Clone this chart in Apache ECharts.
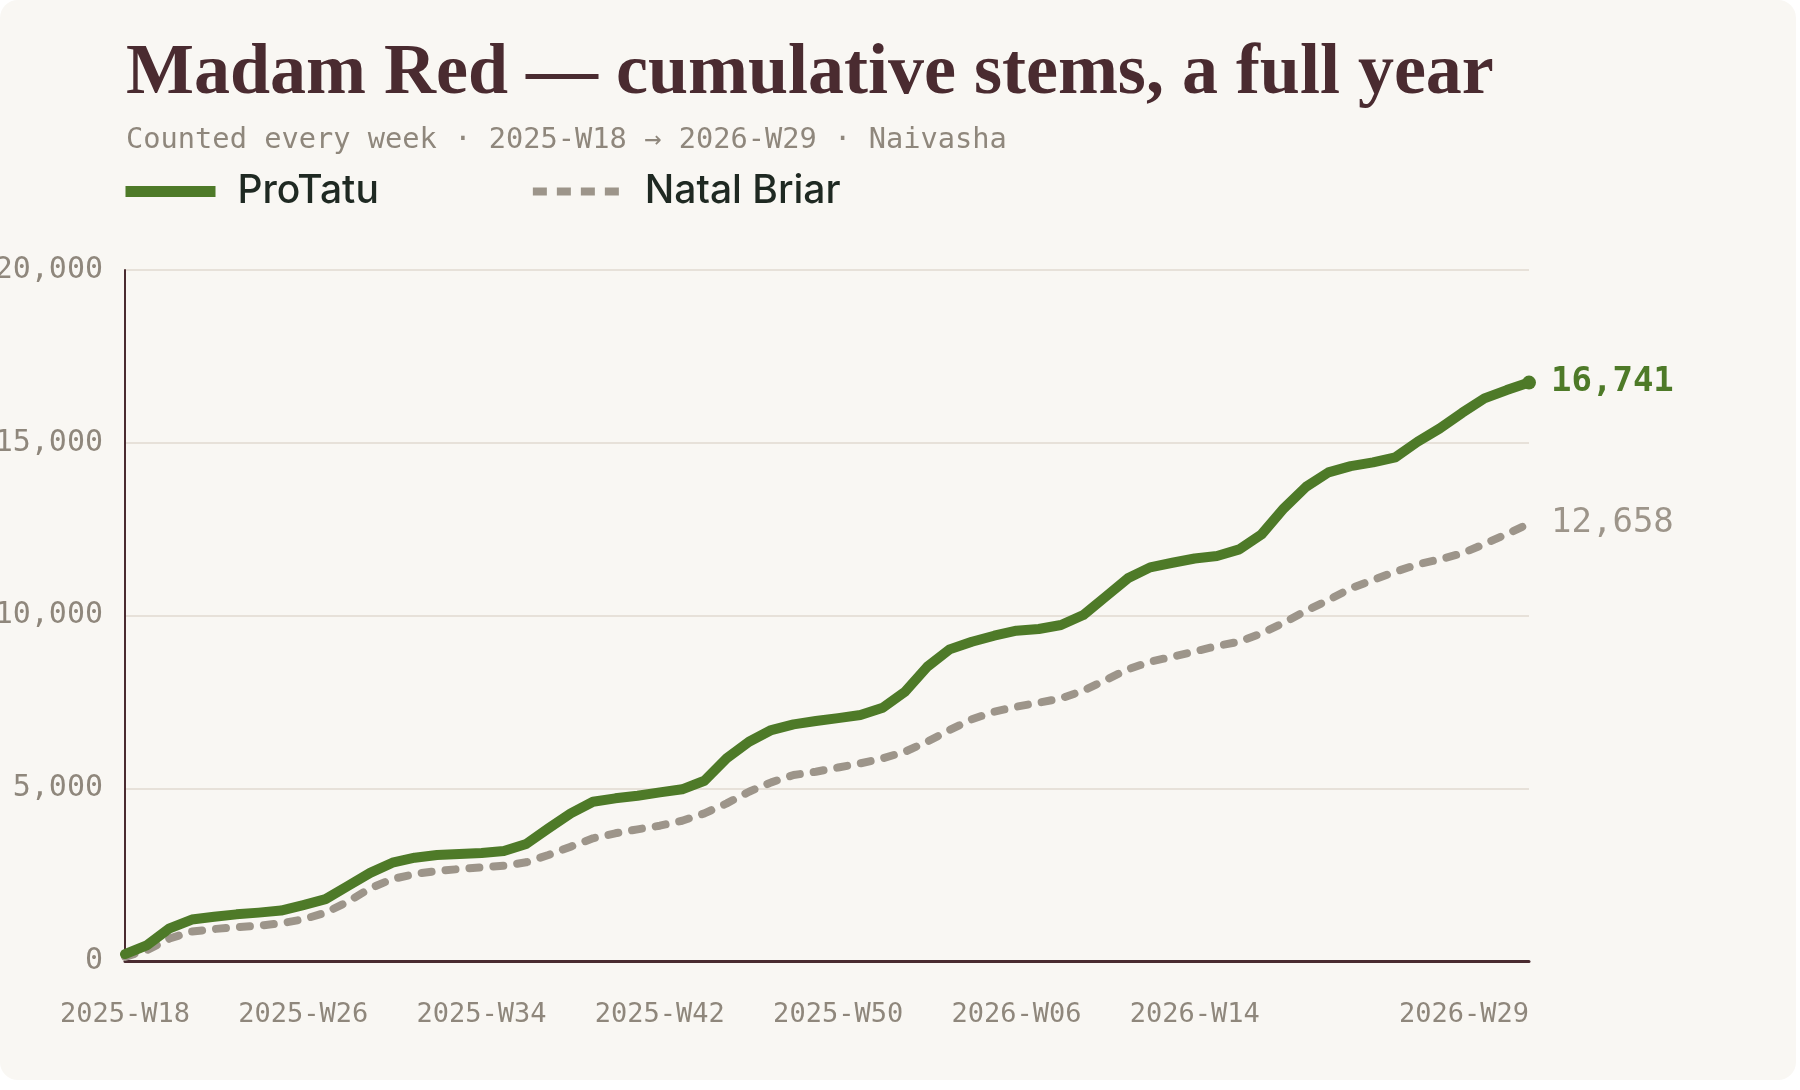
<!DOCTYPE html>
<html>
<head>
<meta charset="utf-8">
<script src="https://cdn.jsdelivr.net/npm/echarts@6/dist/echarts.min.js"></script>
<style>
  html, body { margin: 0; padding: 0; background: #ffffff; }
  #card { position: absolute; left: 0; top: 0; width: 1796px; height: 1080px; border-radius: 18px; background: #f9f7f3; }
  #chart { position: absolute; left: 0; top: 0; width: 1800px; height: 1090px; }
</style>
</head>
<body>
<div id="card"></div>
<div id="chart"></div>
<script>
// weeks counted, 2025-W18 .. 2026-W29
const weeks = [
  '2025-W18', '2025-W19', '2025-W20', '2025-W21', '2025-W22', '2025-W23', '2025-W24', '2025-W25',
  '2025-W26', '2025-W27', '2025-W28', '2025-W29', '2025-W30', '2025-W31', '2025-W32', '2025-W33',
  '2025-W34', '2025-W35', '2025-W36', '2025-W37', '2025-W38', '2025-W39', '2025-W40', '2025-W41',
  '2025-W42', '2025-W43', '2025-W44', '2025-W45', '2025-W46', '2025-W47', '2025-W48', '2025-W49',
  '2025-W50', '2025-W51', '2025-W52', '2026-W01', '2026-W02', '2026-W03', '2026-W04', '2026-W05',
  '2026-W06', '2026-W07', '2026-W08', '2026-W09', '2026-W10', '2026-W11', '2026-W12', '2026-W13',
  '2026-W14', '2026-W15', '2026-W16', '2026-W17', '2026-W18', '2026-W19', '2026-W20', '2026-W21',
  '2026-W22', '2026-W23', '2026-W24', '2026-W25', '2026-W26', '2026-W27', '2026-W28', '2026-W29'
]
const shownWeeks = ['2025-W18', '2025-W26', '2025-W34', '2025-W42', '2025-W50', '2026-W06', '2026-W14', '2026-W29']

const proTatu = [
  200, 460, 945, 1200, 1280, 1350, 1400, 1460,
  1620, 1790, 2170, 2550, 2845, 2990, 3068, 3100,
  3125, 3183, 3386, 3840, 4274, 4610, 4708, 4784,
  4882, 4969, 5218, 5866, 6347, 6685, 6850, 6946,
  7030, 7119, 7331, 7794, 8517, 9020, 9241, 9414,
  9559, 9608, 9724, 10013, 10543, 11075, 11393, 11527,
  11650, 11721, 11914, 12348, 13101, 13726, 14143, 14325,
  14432, 14577, 15029, 15416, 15867, 16284, 16525, 16741
]
const natalBriar = [
  120, 320, 650, 850, 926, 975, 1022, 1090,
  1206, 1398, 1717, 2103, 2373, 2518, 2605, 2662,
  2711, 2759, 2856, 3068, 3308, 3551, 3696, 3811,
  3916, 4060, 4274, 4563, 4900, 5171, 5383, 5478,
  5600, 5721, 5866, 6057, 6347, 6685, 6995, 7215,
  7360, 7475, 7602, 7822, 8132, 8442, 8662, 8807,
  8960, 9116, 9241, 9483, 9791, 10138, 10447, 10786,
  11026, 11267, 11480, 11625, 11799, 12068, 12357, 12658
]

const GREEN = '#4e7a28'
const GREY = '#9d958a'
const INK = '#4a2b30'
const MUTED = '#8f877c'
const MONO = '"DejaVu Sans Mono", monospace'

const fmt = v => v.toLocaleString('en-US')

const chart = echarts.init(document.getElementById('chart'))

// last point of ProTatu gets a dot
const greenData = proTatu.map((v, i) =>
  i === proTatu.length - 1 ? { value: v, symbol: 'circle', symbolSize: 14 } : v
)

chart.setOption({
  backgroundColor: 'transparent',
  animation: false,
  title: [
    {
      text: 'Madam Red — cumulative stems, a full year',
      left: 126, top: 38, padding: 0,
      textStyle: { fontFamily: '"Liberation Serif", serif', fontWeight: 'bold', fontSize: 72, color: INK }
    },
    {
      text: 'Counted every week · 2025-W18 → 2026-W29 · Naivasha',
      left: 126, top: 126, padding: 0,
      textStyle: { fontFamily: MONO, fontWeight: 'normal', fontSize: 28.7, color: MUTED }
    }
  ],
  legend: {
    left: 120, top: 172, padding: 0,
    itemWidth: 90, itemHeight: 12, itemGap: 150,
    itemStyle: { opacity: 0 },
    textStyle: { fontFamily: 'Inter, Roboto, sans-serif', fontSize: 39, fontWeight: 500, color: '#1f2922', padding: [0, 0, 0, 17] },
    data: [
      { name: 'ProTatu', itemStyle: { opacity: 0 }, lineStyle: { width: 11, type: 'solid', cap: 'butt', color: GREEN } },
      { name: 'Natal Briar', itemStyle: { opacity: 0 }, lineStyle: { width: 8, type: [14, 10], cap: 'butt', color: GREY } }
    ]
  },
  grid: { left: 125, right: 271, top: 270, bottom: 129, containLabel: false, outerBoundsMode: 'none' },
  xAxis: {
    type: 'category',
    data: weeks,
    boundaryGap: false,
    axisLine: { lineStyle: { color: INK, width: 3 } },
    axisTick: { show: false },
    axisLabel: {
      interval: (i, v) => shownWeeks.includes(v),
      showMaxLabel: true,
      alignMaxLabel: 'right',
      margin: 40,
      fontFamily: MONO, fontSize: 27, color: MUTED
    },
    splitLine: { show: false }
  },
  yAxis: {
    type: 'value',
    min: 0, max: 20000, interval: 5000,
    axisLine: { show: true, lineStyle: { color: INK, width: 2 } },
    axisTick: { show: false },
    axisLabel: { margin: 22, fontFamily: MONO, fontSize: 30, color: MUTED, formatter: fmt },
    splitLine: { lineStyle: { color: '#e7e1d9', width: 2 } }
  },
  series: [
    {
      name: 'ProTatu',
      type: 'line',
      data: greenData,
      symbol: 'none',
      showSymbol: true,
      itemStyle: { color: GREEN },
      lineStyle: { color: GREEN, width: 10, join: 'round', cap: 'round' },
      endLabel: {
        show: true, distance: 22,
        formatter: p => fmt(p.value),
        fontFamily: MONO, fontSize: 34, fontWeight: 'bold', color: GREEN
      },
      z: 3
    },
    {
      name: 'Natal Briar',
      type: 'line',
      data: natalBriar,
      symbol: 'none',
      itemStyle: { color: GREY },
      lineStyle: { color: GREY, width: 8, type: [10, 14], join: 'round', cap: 'round' },
      endLabel: {
        show: true, distance: 22,
        formatter: p => fmt(p.value),
        fontFamily: MONO, fontSize: 34, fontWeight: 'normal', color: GREY
      },
      z: 2
    }
  ]
})
</script>
</body>
</html>
